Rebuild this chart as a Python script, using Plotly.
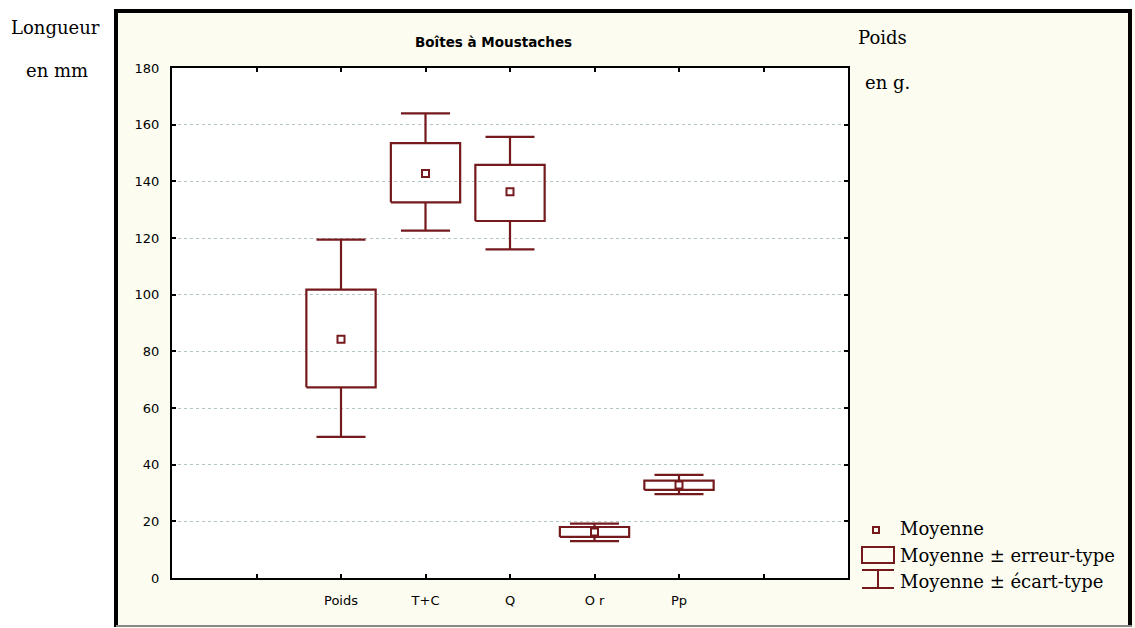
import plotly.graph_objects as go

# ---- data ----
categories = ["Poids", "T+C", "Q", "Or", "Pp"]
tick_labels = ["", "Poids", "T+C", "Q", "O r", "Pp", ""]
means = [84.3, 142.8, 136.3, 16.2, 32.8]
se_low = [67.3, 132.6, 126.0, 14.5, 31.1]
se_high = [101.8, 153.5, 145.8, 18.0, 34.4]
sd_low = [49.8, 122.6, 116.0, 13.0, 29.6]
sd_high = [119.4, 164.0, 155.7, 19.2, 36.4]

COL = "#741a1c"
IVORY = "#fcfcf0"

# ---- layout geometry (pixels) ----
W, H = 1135, 628
L, R, T, B = 172, 848, 68, 578

def px(x):
    return (x - L) / (R - L)

def py(y):
    return (B - y) / (B - T)

fig = go.Figure()

box_hw = 0.41
cap_hw = 0.29
for i, cat in enumerate(categories):
    c = i + 2
    xs, ys = [], []
    # box (mean +/- SE)
    xs += [c - box_hw, c + box_hw, c + box_hw, c - box_hw, c - box_hw, None]
    ys += [se_low[i], se_low[i], se_high[i], se_high[i], se_low[i], None]
    # upper whisker
    xs += [c, c, None, c - cap_hw, c + cap_hw, None]
    ys += [se_high[i], sd_high[i], None, sd_high[i], sd_high[i], None]
    # lower whisker
    xs += [c, c, None, c - cap_hw, c + cap_hw]
    ys += [se_low[i], sd_low[i], None, sd_low[i], sd_low[i]]
    fig.add_trace(go.Scatter(x=xs, y=ys, mode="lines",
                             line=dict(color=COL, width=2.2),
                             hoverinfo="skip", showlegend=False, name=cat))

fig.add_trace(go.Scatter(x=[i + 2 for i in range(len(categories))], y=means,
                         mode="markers",
                         marker=dict(symbol="square-open", size=7, color=COL,
                                     line=dict(width=2, color=COL)),
                         showlegend=False, name="Moyenne"))

shapes = []
# white strips outside the frame
shapes.append(dict(type="rect", xref="paper", yref="paper", layer="below",
                   x0=px(0), x1=px(115), y0=py(H), y1=py(0),
                   fillcolor="white", line=dict(width=0)))
shapes.append(dict(type="rect", xref="paper", yref="paper", layer="below",
                   x0=px(0), x1=px(W), y0=py(9), y1=py(0),
                   fillcolor="white", line=dict(width=0)))
# frame
shapes.append(dict(type="line", xref="paper", yref="paper",
                   x0=px(116), x1=px(116), y0=py(627), y1=py(9),
                   line=dict(color="black", width=4)))
shapes.append(dict(type="line", xref="paper", yref="paper",
                   x0=px(114), x1=px(1132), y0=py(11), y1=py(11),
                   line=dict(color="black", width=4)))
shapes.append(dict(type="line", xref="paper", yref="paper",
                   x0=px(1130), x1=px(1130), y0=py(626), y1=py(9),
                   line=dict(color="black", width=4)))
shapes.append(dict(type="line", xref="paper", yref="paper",
                   x0=px(116), x1=px(1132), y0=py(626), y1=py(626),
                   line=dict(color="#888888", width=2)))

# legend icons
shapes.append(dict(type="rect", xref="paper", yref="paper",
                   x0=px(873), x1=px(879), y0=py(533), y1=py(527),
                   line=dict(color=COL, width=2)))
shapes.append(dict(type="rect", xref="paper", yref="paper",
                   x0=px(862), x1=px(894), y0=py(563), y1=py(547),
                   line=dict(color=COL, width=2)))
shapes.append(dict(type="line", xref="paper", yref="paper",
                   x0=px(862), x1=px(894), y0=py(570), y1=py(570),
                   line=dict(color=COL, width=2)))
shapes.append(dict(type="line", xref="paper", yref="paper",
                   x0=px(878), x1=px(878), y0=py(570), y1=py(588),
                   line=dict(color=COL, width=2)))
shapes.append(dict(type="line", xref="paper", yref="paper",
                   x0=px(862), x1=px(894), y0=py(588), y1=py(588),
                   line=dict(color=COL, width=2)))

SERIF = "DejaVu Serif, serif"
SANS = "DejaVu Sans, sans-serif"

annotations = []
def ann(text, x, y, size=18, font=SERIF, xanchor="left", color="black"):
    annotations.append(dict(text=text, xref="paper", yref="paper",
                            x=px(x), y=py(y), xanchor=xanchor, yanchor="middle",
                            showarrow=False,
                            font=dict(family=font, size=size, color=color)))

ann("Longueur", 55, 27, xanchor="center")
ann("en mm", 57, 70, xanchor="center")
ann("Poids", 856, 37)
ann("en g.", 863, 82)
ann("<b>Boîtes à Moustaches</b>", 493, 42, size=13.5, font=SANS, xanchor="center")
ann("Moyenne", 898, 528)
ann("Moyenne ± erreur-type", 898, 555)
ann("Moyenne ± écart-type", 898, 581)

fig.update_layout(
    width=W, height=H,
    margin=dict(l=L, r=W - R, t=T, b=H - B, pad=0),
    paper_bgcolor=IVORY, plot_bgcolor="white",
    shapes=shapes, annotations=annotations,
    showlegend=False,
    xaxis=dict(range=[0, 8], tickvals=list(range(1, 8)), ticktext=tick_labels,
               showgrid=False, zeroline=False,
               showline=True, linecolor="black", linewidth=2, mirror="ticks",
               ticks="inside", ticklen=4, tickwidth=2, tickcolor="black",
               ticklabelstandoff=9,
               tickfont=dict(family=SANS, size=13, color="black")),
    yaxis=dict(range=[0, 180], tickvals=list(range(0, 181, 20)),
               showgrid=True, gridcolor="#b3c4c4", griddash="dot", gridwidth=1,
               zeroline=False,
               showline=True, linecolor="black", linewidth=2, mirror="ticks",
               ticks="inside", ticklen=4, tickwidth=2, tickcolor="black",
               ticklabelstandoff=8,
               tickfont=dict(family=SANS, size=13, color="black")),
    font=dict(family=SANS, color="black"),
)

fig.write_html("out.html")
